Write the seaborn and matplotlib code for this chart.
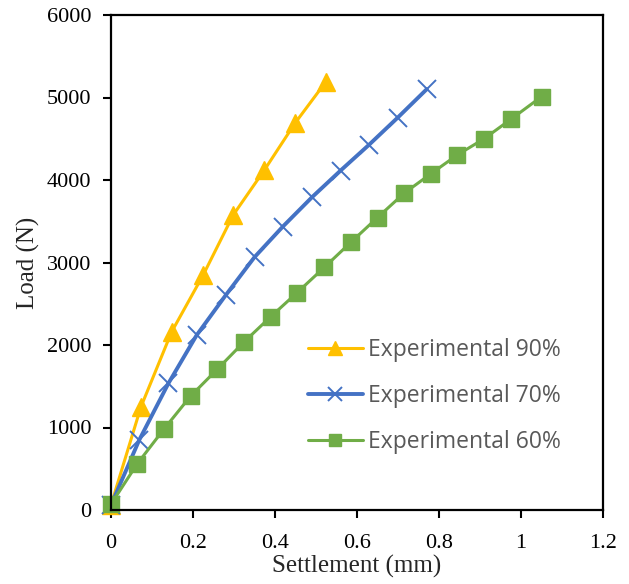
import pandas as pd
import matplotlib
matplotlib.use("Agg")
import matplotlib.pyplot as plt
import seaborn as sns

# valores
settle_90 = [0, 0.073, 0.148, 0.225, 0.298, 0.374, 0.449, 0.524]
load_90 = [60, 1250, 2160, 2850, 3575, 4120, 4690, 5190]

settle_70 = [0, 0.069, 0.140, 0.209, 0.280, 0.350, 0.419, 0.490, 0.560, 0.630, 0.699, 0.770]
load_70 = [60, 850, 1535, 2120, 2605, 3065, 3435, 3790, 4115, 4430, 4755, 5100]

settle_60 = [0, 0.064, 0.129, 0.194, 0.259, 0.324, 0.390, 0.454, 0.520, 0.585,
             0.650, 0.715, 0.780, 0.845, 0.910, 0.975, 1.050]
load_60 = [70, 560, 980, 1380, 1705, 2035, 2345, 2635, 2940, 3245,
           3545, 3840, 4075, 4305, 4500, 4735, 5010]

labels = ["Experimental 90%", "Experimental 70%", "Experimental 60%"]
colores = ["#FFC000", "#4472C4", "#70AD47"]

sns.set_style("ticks")
plt.rcParams['font.family'] = ['Liberation Serif', 'DejaVu Serif']

fig = plt.figure(figsize=(6.29, 5.84), dpi=100)
ax = fig.add_axes([111 / 629, 1 - 510 / 584, 492 / 629, 495 / 584])

series = [
    (settle_90, load_90, labels[0], colores[0], "^", 13, 2.2, 1),
    (settle_70, load_70, labels[1], colores[1], "x", 13, 2.8, 1.4),
    (settle_60, load_60, labels[2], colores[2], "s", 12, 2.2, 1),
]
for xs, ys, lab, col, mk, ms, lw, mew in series:
    df = pd.DataFrame({"Settlement": xs, "Load": ys})
    sns.lineplot(data=df, x="Settlement", y="Load", ax=ax, color=col, marker=mk,
                 markersize=ms, linewidth=lw, markeredgecolor=col, markeredgewidth=mew,
                 label=lab, clip_on=False, sort=False)

ax.set_xlim(0, 1.2)
ax.set_ylim(0, 6000)
ax.set_xticks([0, 0.2, 0.4, 0.6, 0.8, 1, 1.2])
ax.set_xticklabels(["0", "0.2", "0.4", "0.6", "0.8", "1", "1.2"])
ax.set_yticks(range(0, 6001, 1000))
ax.tick_params(axis="both", direction="out", length=6, width=1.5, labelsize=16, colors="black")
ax.tick_params(axis="x", pad=11)
ax.tick_params(axis="y", pad=8)
for sp in ax.spines.values():
    sp.set_visible(True)
    sp.set_linewidth(1.6)
    sp.set_color("black")

ax.set_xlabel("Settlement (mm)", fontsize=18, labelpad=1.5)
ax.set_ylabel("Load (N)", fontsize=18, labelpad=5)

leg = ax.legend(loc="center left", bbox_to_anchor=(0.40, 0.230), frameon=False,
                borderpad=0, borderaxespad=0, handlelength=2.4, handletextpad=0.22,
                labelspacing=0.95, markerscale=0.75,
                prop={"family": "Open Sans", "size": 16.5})
for t in leg.get_texts():
    t.set_color("#595959")

fig.savefig("out.png", dpi=100)
